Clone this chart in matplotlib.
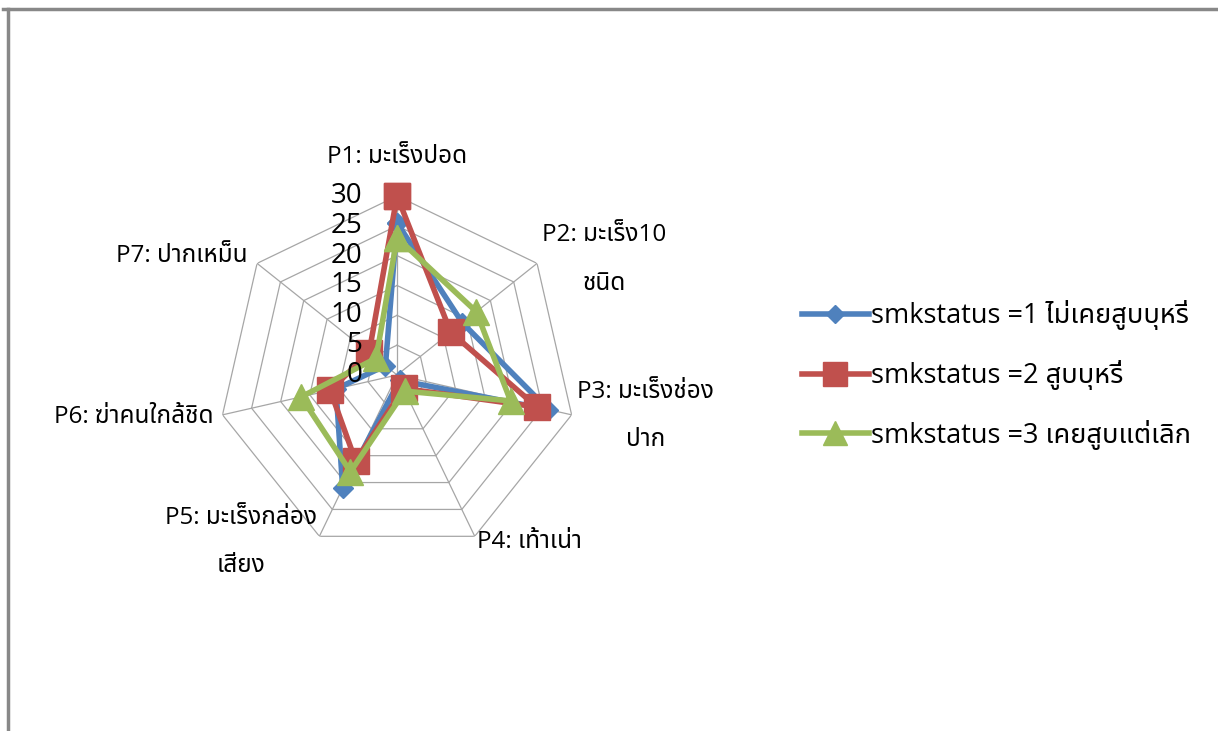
import numpy as np
import matplotlib
matplotlib.use('Agg')
import matplotlib.pyplot as plt
from matplotlib.lines import Line2D
from matplotlib.transforms import ScaledTranslation

FONTS = ['Open Sans', 'Noto Sans Thai', 'Sarabun', 'Anuphan', 'DejaVu Sans']
plt.rcParams['font.family'] = FONTS

categories = ['P1: มะเร็งปอด', 'P2: มะเร็ง10\nชนิด', 'P3: มะเร็งช่อง\nปาก',
              'P4: เท้าเน่า', 'P5: มะเร็งกล่อง\nเสียง', 'P6: ฆ่าคนใกล้ชิด',
              'P7: ปากเหม็น']
never_smoked = [25.5, 14, 26, 1, 21, 10.5, 2.5]
smoker = [30, 11.5, 24, 2.5, 16, 11.5, 6]
quit_smoking = [23, 17, 19.5, 3, 18, 16.5, 4.5]
series_names = ['smkstatus =1 ไม่เคยสูบบุหรี่', 'smkstatus =2 สูบบุหรี่',
                'smkstatus =3 เคยสูบแต่เลิก']
ticks = [0, 5, 10, 15, 20, 25, 30]

colors = ['#4F81BD', '#C0504D', '#9BBB59']
markers = [('D', 10), ('s', 19), ('^', 19)]

fig = plt.figure(figsize=(12.18, 7.31), dpi=100)
ax = fig.add_axes([0.179, 0.242, 0.294, 0.490], projection='polar')
ax.set_theta_offset(np.pi / 2)
ax.set_theta_direction(-1)
ax.set_ylim(0, 30)
ax.grid(False)
ax.spines['polar'].set_visible(False)
ax.set_xticks([])
ax.set_yticks([])
ax.patch.set_alpha(0)

n = len(categories)
theta = np.arange(n) * 2 * np.pi / n
closed = np.append(theta, theta[0])

# heptagon rings and spokes
for t in ticks[1:]:
    ax.plot(closed, [t] * (n + 1), color='#A6A6A6', lw=0.9, zorder=1)
for a in theta:
    ax.plot([a, a], [0, 30], color='#A6A6A6', lw=0.9, zorder=1)

for vals, c, (m, ms), name in zip([never_smoked, smoker, quit_smoking],
                                  colors, markers, series_names):
    v = np.append(vals, vals[0])
    ax.plot(closed, v, color=c, lw=4, marker=m, markersize=ms,
            markeredgecolor=c, label=name, zorder=3, clip_on=False)

# radial value labels to the left of the first spoke
shift = ScaledTranslation(-0.35, 0, fig.dpi_scale_trans)
for t in ticks:
    ax.text(0, t, str(t), transform=ax.transData + shift, ha='right',
            va='center', fontsize=20, color='#000000')

# category labels
label_pos = [(36.5, 'center'), (31, 'left'), (31, 'left'), (31, 'left'),
             (31, 'right'), (31.5, 'right'), (32, 'right')]
for a, lab, (r, ha) in zip(theta, categories, label_pos):
    ax.text(a, r, lab, ha=ha, va='center', fontsize=17.5, linespacing=2.35,
            multialignment='center', color='#000000')

fig.legend(loc='center left', bbox_to_anchor=(788 / 1218, 0.487),
           frameon=False, fontsize=19.5, handlelength=2.5, handletextpad=0.07,
           labelspacing=1.1, borderpad=0, markerscale=0.9)

# frame edges
fig.add_artist(Line2D([3 / 1218, 1], [1 - 9 / 731] * 2, color='#888888',
                      lw=2.5, transform=fig.transFigure))
fig.add_artist(Line2D([7.5 / 1218] * 2, [0, 1 - 9 / 731], color='#888888',
                      lw=2.5, transform=fig.transFigure))

fig.savefig('out.png', dpi=100)
